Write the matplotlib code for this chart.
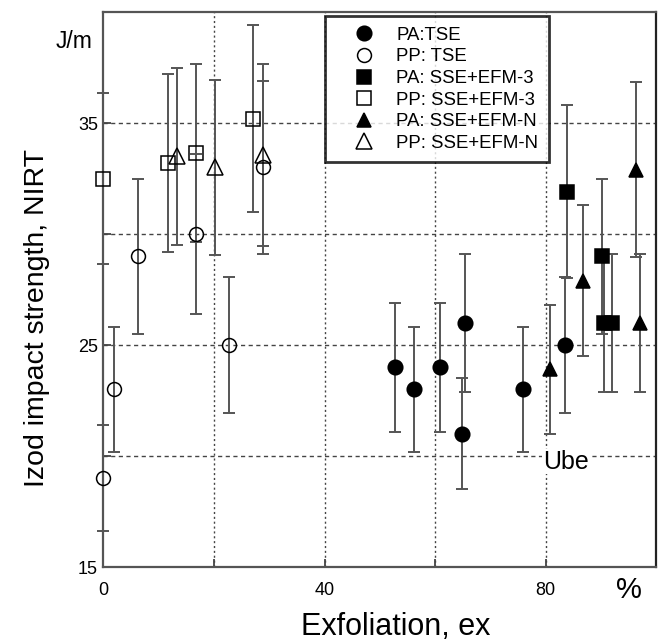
import matplotlib
matplotlib.use("Agg")
import matplotlib.pyplot as plt
from matplotlib.lines import Line2D

plt.rcParams['font.family'] = ['Liberation Sans', 'DejaVu Sans']

# ---- data ----
pa_tse_x = [52.8, 56.2, 60.9, 65.4, 64.9, 75.9, 83.5]
pa_tse_y = [24.0, 23.0, 24.0, 26.0, 21.0, 23.0, 25.0]
pa_tse_e = [2.9, 2.8, 2.9, 3.1, 2.5, 2.8, 3.05]

pp_tse_x = [0.0, 1.9, 6.3, 16.8, 22.7, 28.9]
pp_tse_y = [19.0, 23.0, 29.0, 30.0, 25.0, 33.0]
pp_tse_e = [2.4, 2.8, 3.5, 3.6, 3.05, 3.9]

pa_efm3_x = [83.9, 90.2, 90.5, 92.1]
pa_efm3_y = [31.9, 29.0, 26.0, 26.0]
pa_efm3_e = [3.9, 3.5, 3.1, 3.1]

pp_efm3_x = [0.0, 11.7, 16.7, 27.0]
pp_efm3_y = [32.5, 33.2, 33.65, 35.2]
pp_efm3_e = [3.85, 4.0, 4.0, 4.2]

pa_efmn_x = [80.8, 86.8, 96.4, 97.1]
pa_efmn_y = [23.9, 27.9, 32.9, 26.0]
pa_efmn_e = [2.9, 3.4, 3.95, 3.1]

pp_efmn_x = [13.3, 20.2, 28.9]
pp_efmn_y = [33.5, 33.0, 33.55]
pp_efmn_e = [4.0, 3.95, 4.1]

labels = ["PA:TSE", "PP: TSE", "PA: SSE+EFM-3", "PP: SSE+EFM-3",
          "PA: SSE+EFM-N", "PP: SSE+EFM-N"]

x_ticks = [0, 20, 40, 60, 80, 100]
x_ticklabels = ["0", "", "40", "", "80", ""]
y_ticks = [15, 20, 25, 30, 35, 40]
y_ticklabels = ["15", "", "25", "", "35", ""]

fig = plt.figure(figsize=(6.65, 6.42), dpi=100)
ax = fig.add_axes([0.1556, 0.1168, 0.831, 0.8645])
ax.set_xlim(0, 100)
ax.set_ylim(15, 40)

# grid
for gx in [20, 40, 60, 80]:
    ax.axvline(gx, color='#444444', lw=1.0, ls=(0, (1.5, 2)), zorder=1)
for gy in [20, 25, 30, 35]:
    ax.axhline(gy, color='#444444', lw=1.0, ls=(0, (3, 2.5)), zorder=1)

series = [
    (pa_tse_x, pa_tse_y, pa_tse_e, 'o', 'black', 10.5),
    (pp_tse_x, pp_tse_y, pp_tse_e, 'o', 'none', 10),
    (pa_efm3_x, pa_efm3_y, pa_efm3_e, 's', 'black', 10),
    (pp_efm3_x, pp_efm3_y, pp_efm3_e, 's', 'none', 10),
    (pa_efmn_x, pa_efmn_y, pa_efmn_e, '^', 'black', 10.5),
    (pp_efmn_x, pp_efmn_y, pp_efmn_e, '^', 'none', 11),
]

handles = []
for (xs, ys, es, mk, fc, ms), lab in zip(series, labels):
    ax.errorbar(xs, ys, yerr=es, fmt='none', ecolor='#555555', elinewidth=1.4,
                capsize=4.5, capthick=1.4, zorder=2, clip_on=False)
    ax.plot(xs, ys, ls='none', marker=mk, markersize=ms, markerfacecolor=fc,
            markeredgecolor='black', markeredgewidth=1.1, zorder=3, clip_on=False)
    handles.append(Line2D([], [], ls='none', marker=mk, markersize=ms,
                          markerfacecolor=fc, markeredgecolor='black',
                          markeredgewidth=1.1, label=lab))

leg = ax.legend(handles=handles, loc='upper left', bbox_to_anchor=(0.4, 0.992),
                frameon=True, fancybox=False, fontsize=13.4, handlelength=3.1,
                handletextpad=0.2, labelspacing=0.245, borderpad=0.56,
                borderaxespad=0.0)
leg.get_frame().set_edgecolor('black')
leg.get_frame().set_linewidth(2.0)
leg.set_zorder(5)

ax.set_xticks(x_ticks)
ax.set_xticklabels(x_ticklabels)
ax.set_yticks(y_ticks)
ax.set_yticklabels(y_ticklabels)
ax.tick_params(direction='in', length=6, width=1.3, color='#444444',
               labelsize=13)
ax.tick_params(axis='x', pad=11)
ax.tick_params(axis='y', pad=4)

for s in ax.spines.values():
    s.set_color('#555555')
    s.set_linewidth(1.6)
ax.spines['right'].set_color('#222222')

fig.text(396 / 665, 1 - 627 / 642, "Exfoliation, ex", fontsize=22,
         ha='center', va='center')
fig.text(37 / 665, 1 - 318 / 642, "Izod impact strength, NIRT", fontsize=20.5,
         ha='center', va='center', rotation=90)

ax.text(-2.0, 38.65, "J/m", fontsize=16.5, ha='right', va='center', zorder=6,
        clip_on=False)
ax.text(95.0, 13.95, "%", fontsize=21, ha='center', va='center', clip_on=False)
ax.text(79.5, 19.75, "Ube", fontsize=18, ha='left', va='center', zorder=6,
        bbox=dict(facecolor='white', edgecolor='none', pad=0.5))

fig.savefig("out.png", dpi=100)
